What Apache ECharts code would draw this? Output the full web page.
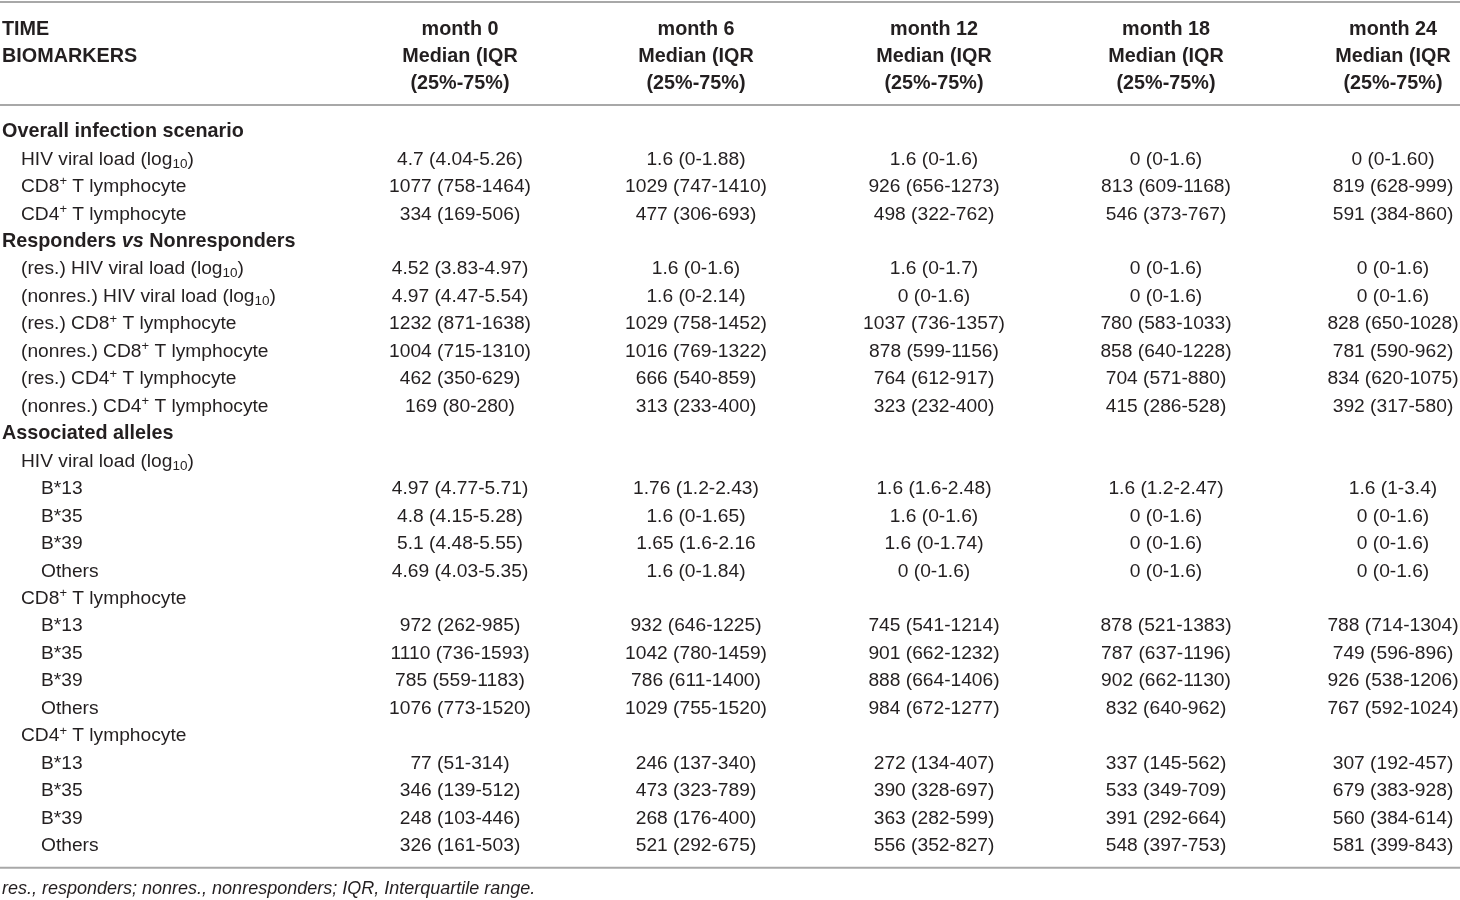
<!DOCTYPE html>
<html><head><meta charset="utf-8">
<script src="https://cdn.jsdelivr.net/npm/echarts@6/dist/echarts.min.js"></script>
<style>html,body{margin:0;padding:0;background:#fff}#c{width:1460px;height:900px}</style>
</head><body><div id="c"></div>
<script>
// ---------- DATA ----------
const stubHeaders = ['TIME', 'BIOMARKERS'];
const columnHeaders = ['month 0', 'month 6', 'month 12', 'month 18', 'month 24'];
const headerLine2 = 'Median (IQR';
const headerLine3 = '(25%-75%)';

const rowLabels = [
  'Overall infection scenario',
  'HIV viral load (log{sub|10})',
  'CD8{sup|+} T lymphocyte',
  'CD4{sup|+} T lymphocyte',
  'Responders {it|vs} Nonresponders',
  '(res.) HIV viral load (log{sub|10})',
  '(nonres.) HIV viral load (log{sub|10})',
  '(res.) CD8{sup|+} T lymphocyte',
  '(nonres.) CD8{sup|+} T lymphocyte',
  '(res.) CD4{sup|+} T lymphocyte',
  '(nonres.) CD4{sup|+} T lymphocyte',
  'Associated alleles',
  'HIV viral load (log{sub|10})',
  'B*13', 'B*35', 'B*39', 'Others',
  'CD8{sup|+} T lymphocyte',
  'B*13', 'B*35', 'B*39', 'Others',
  'CD4{sup|+} T lymphocyte',
  'B*13', 'B*35', 'B*39', 'Others'
];
const rowLevels = [0,1,1,1,0,1,1,1,1,1,1,0,1,2,2,2,2,1,2,2,2,2,1,2,2,2,2];

const month0 = ['', '4.7 (4.04-5.26)', '1077 (758-1464)', '334 (169-506)', '',
  '4.52 (3.83-4.97)', '4.97 (4.47-5.54)', '1232 (871-1638)', '1004 (715-1310)', '462 (350-629)', '169 (80-280)', '',
  '', '4.97 (4.77-5.71)', '4.8 (4.15-5.28)', '5.1 (4.48-5.55)', '4.69 (4.03-5.35)',
  '', '972 (262-985)', '1110 (736-1593)', '785 (559-1183)', '1076 (773-1520)',
  '', '77 (51-314)', '346 (139-512)', '248 (103-446)', '326 (161-503)'];
const month6 = ['', '1.6 (0-1.88)', '1029 (747-1410)', '477 (306-693)', '',
  '1.6 (0-1.6)', '1.6 (0-2.14)', '1029 (758-1452)', '1016 (769-1322)', '666 (540-859)', '313 (233-400)', '',
  '', '1.76 (1.2-2.43)', '1.6 (0-1.65)', '1.65 (1.6-2.16', '1.6 (0-1.84)',
  '', '932 (646-1225)', '1042 (780-1459)', '786 (611-1400)', '1029 (755-1520)',
  '', '246 (137-340)', '473 (323-789)', '268 (176-400)', '521 (292-675)'];
const month12 = ['', '1.6 (0-1.6)', '926 (656-1273)', '498 (322-762)', '',
  '1.6 (0-1.7)', '0 (0-1.6)', '1037 (736-1357)', '878 (599-1156)', '764 (612-917)', '323 (232-400)', '',
  '', '1.6 (1.6-2.48)', '1.6 (0-1.6)', '1.6 (0-1.74)', '0 (0-1.6)',
  '', '745 (541-1214)', '901 (662-1232)', '888 (664-1406)', '984 (672-1277)',
  '', '272 (134-407)', '390 (328-697)', '363 (282-599)', '556 (352-827)'];
const month18 = ['', '0 (0-1.6)', '813 (609-1168)', '546 (373-767)', '',
  '0 (0-1.6)', '0 (0-1.6)', '780 (583-1033)', '858 (640-1228)', '704 (571-880)', '415 (286-528)', '',
  '', '1.6 (1.2-2.47)', '0 (0-1.6)', '0 (0-1.6)', '0 (0-1.6)',
  '', '878 (521-1383)', '787 (637-1196)', '902 (662-1130)', '832 (640-962)',
  '', '337 (145-562)', '533 (349-709)', '391 (292-664)', '548 (397-753)'];
const month24 = ['', '0 (0-1.60)', '819 (628-999)', '591 (384-860)', '',
  '0 (0-1.6)', '0 (0-1.6)', '828 (650-1028)', '781 (590-962)', '834 (620-1075)', '392 (317-580)', '',
  '', '1.6 (1-3.4)', '0 (0-1.6)', '0 (0-1.6)', '0 (0-1.6)',
  '', '788 (714-1304)', '749 (596-896)', '926 (538-1206)', '767 (592-1024)',
  '', '307 (192-457)', '679 (383-928)', '560 (384-614)', '581 (399-843)'];

const footnote = 'res., responders; nonres., nonresponders; IQR, Interquartile range.';

// ---------- LAYOUT ----------
const monthColumns = [month0, month6, month12, month18, month24];
const colCenters = [460, 696, 934, 1166, 1393];
const indentX = [2, 21, 41];
const headerRows = [-3.72, -2.73, -1.75];
const ruleRows = [-4.73, -0.98, 26.80];
const footRow = 27.56;
const FONT = '"Liberation Sans", Arial, Helvetica, sans-serif';
const TXT = '#231f20';
const FS = 19.2;
const FSB = 19.8;
const FS_FOOT = 18;
const rich = {
  sup: {fontSize: 13, lineHeight: 12, verticalAlign: 'top', fontFamily: FONT, fill: TXT, color: TXT},
  sub: {fontSize: 13.5, lineHeight: 11, verticalAlign: 'bottom', fontFamily: FONT, fill: TXT, color: TXT},
  it: {fontSize: FSB, fontStyle: 'italic', fontWeight: 'bold', lineHeight: 23, fontFamily: FONT, fill: TXT, color: TXT}
};

function txt(x, y, s, align, bold, italic, size) {
  return {
    type: 'text',
    x: x, y: y,
    style: {
      text: s, x: 0, y: 0,
      fill: TXT, align: align, verticalAlign: 'middle',
      fontFamily: FONT, fontSize: size || (bold ? FSB : FS), lineHeight: 23,
      fontWeight: bold ? 'bold' : 'normal',
      fontStyle: italic ? 'italic' : 'normal',
      rich: rich
    }
  };
}

const chart = echarts.init(document.getElementById('c'), null, {renderer: 'canvas'});

const bodyData = rowLabels.map((_, i) => [0, i]);
const headerData = [0, 1, 2].map(i => [0, headerRows[i]]);

chart.setOption({
  animation: false,
  grid: {left: 0, right: 0, top: 0, bottom: 0},
  xAxis: {type: 'value', min: 0, max: 1460, show: false},
  yAxis: {type: 'value', min: -4.80, max: 27.97, inverse: true, show: false},
  series: [
    {
      type: 'custom', name: 'rules', silent: true,
      data: ruleRows.map(r => [0, r]),
      renderItem: function (params, api) {
        const p0 = api.coord([0, api.value(1)]);
        const p1 = api.coord([1460, api.value(1)]);
        return {type: 'line', shape: {x1: p0[0], y1: p0[1], x2: p1[0], y2: p1[1]},
          style: {stroke: '#a8a8a8', lineWidth: 2}};
      }
    },
    {
      type: 'custom', name: 'header', silent: true,
      data: headerData,
      renderItem: function (params, api) {
        const i = params.dataIndex;
        const y = api.coord([0, api.value(1)])[1];
        const children = [];
        if (i < stubHeaders.length) children.push(txt(api.coord([indentX[0], 0])[0], y, stubHeaders[i], 'left', true));
        const line = i === 0 ? null : (i === 1 ? headerLine2 : headerLine3);
        colCenters.forEach((cx, c) => {
          const s = i === 0 ? columnHeaders[c] : line;
          children.push(txt(api.coord([cx, 0])[0], y, s, 'center', true));
        });
        return {type: 'group', children: children};
      }
    },
    {
      type: 'custom', name: 'body', silent: true,
      data: bodyData,
      renderItem: function (params, api) {
        const r = api.value(1);
        const y = api.coord([0, r])[1];
        const lvl = rowLevels[r];
        const children = [txt(api.coord([indentX[lvl], 0])[0], y, rowLabels[r], 'left', lvl === 0)];
        monthColumns.forEach((col, c) => {
          if (col[r]) children.push(txt(api.coord([colCenters[c], 0])[0], y, col[r], 'center', false));
        });
        return {type: 'group', children: children};
      }
    },
    {
      type: 'custom', name: 'footnote', silent: true,
      data: [[0, footRow]],
      renderItem: function (params, api) {
        const p = api.coord([indentX[0], api.value(1)]);
        return txt(p[0], p[1], footnote, 'left', false, true, FS_FOOT);
      }
    }
  ]
});
</script></body></html>
